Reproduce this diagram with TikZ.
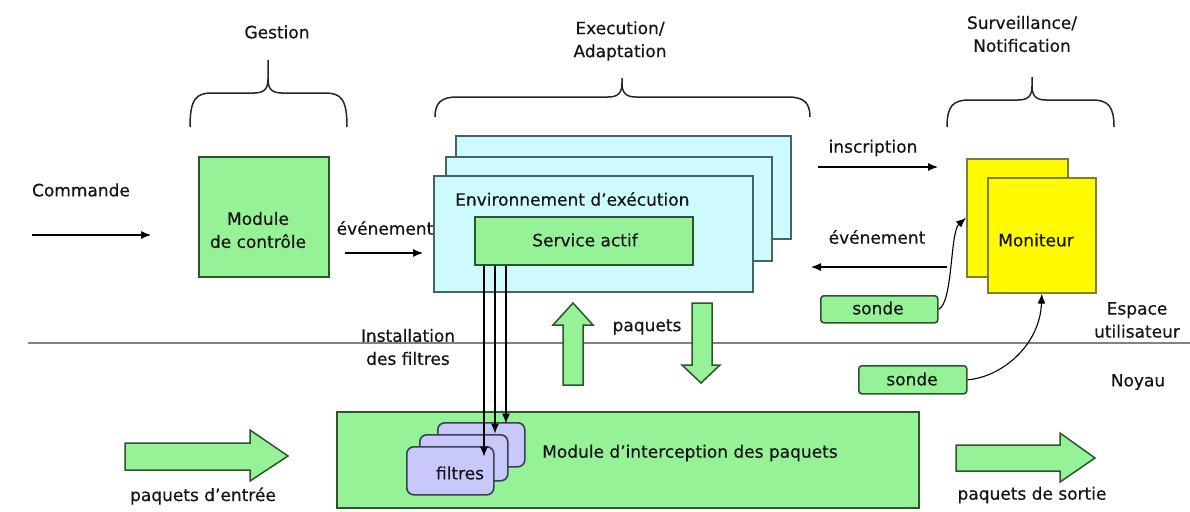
\documentclass[tikz,border=0pt]{standalone}
\usepackage{fontspec}
\setmainfont{DejaVu Sans}[FakeBold=0.35]
\usetikzlibrary{arrows.meta}
\definecolor{lgreen}{RGB}{150,242,150}
\definecolor{dgreen}{RGB}{45,85,45}
\definecolor{lcyan}{RGB}{205,250,252}
\definecolor{dcyan}{RGB}{70,100,100}
\definecolor{myyellow}{RGB}{255,250,0}
\definecolor{dyellow}{RGB}{125,125,60}
\definecolor{lav}{RGB}{200,200,250}
\definecolor{dlav}{RGB}{55,65,80}
\definecolor{txt}{RGB}{20,20,20}
\definecolor{sepgray}{RGB}{130,130,130}
\newcommand\mybrace[6]{%
  \draw[bracestyle] (#1,#5) .. controls (#1,#4+6) and (#1+6,#4) .. (#1+22,#4) -- (#3-14,#4) .. controls (#3-4,#4) and (#3,#4-4) .. (#3,#4-14) -- (#3,#6);
  \draw[bracestyle] (#2,#5) .. controls (#2,#4+6) and (#2-6,#4) .. (#2-22,#4) -- (#3+14,#4) .. controls (#3+4,#4) and (#3,#4-4) .. (#3,#4-14);
}
\begin{document}
\begin{tikzpicture}[x=1pt,y=-1pt,
  font=\fontsize{17}{23}\selectfont,
  every node/.style={text=txt},
  box/.style={anchor=north west, inner sep=0pt, line width=1.6pt},
  greenbox/.style={box, draw=dgreen, fill=lgreen},
  cyanbox/.style={box, draw=dcyan, fill=lcyan},
  yellowbox/.style={box, draw=dyellow, fill=myyellow},
  lavbox/.style={box, draw=dlav, fill=lav, rounded corners=7pt},
  sondebox/.style={greenbox, rounded corners=3pt},
  arr/.style={-{Latex[length=10pt,width=8pt]}, line width=1.1pt},
  lbl/.style={inner sep=0pt, align=center},
  bigarrow/.style={draw=dgreen, fill=lgreen, line width=1.5pt, line join=miter},
  bracestyle/.style={line width=1.5pt, draw=black!85}]
\fill[white] (0,0) rectangle (1190,511);
\useasboundingbox (0,0) rectangle (1190,511);

% separator line
\coordinate (sepL) at (28,343);
\coordinate (sepR) at (1190,343);
\draw[sepgray, line width=1.7pt] (sepL) -- (sepR);

% braces and titles
\mybrace{190}{347}{268}{93}{127}{60}
\mybrace{435}{810}{622}{97}{117}{78}
\mybrace{947}{1114}{1032}{100}{127}{77}
\node[lbl] (tGestion) at (277,32) {Gestion};
\node[lbl] (tExec) at (620,41) {Execution/\\Adaptation};
\node[lbl] (tSurv) at (1022,34) {Surveillance/\\Notification};

% control module
\node[greenbox, minimum width=130pt, minimum height=120pt] (ctrl) at (198,156) {};
\node[lbl] (ctrlT) at (258,230) {Module\\de contrôle};
\node[lbl] (tCmd) at (81,190) {Commande};
\coordinate (cmdS) at (32,235);
\coordinate (cmdE) at (151,235);
\draw[arr] (cmdS) -- (cmdE);

% execution environments
\node[cyanbox, minimum width=335pt, minimum height=103pt] (env3) at (455,135) {};
\node[cyanbox, minimum width=326pt, minimum height=104pt] (env2) at (445,156) {};
\node[cyanbox, minimum width=319pt, minimum height=116pt] (env1) at (433,175) {};
\node[lbl, anchor=west] (envT) at (455,199) {Environnement d’exécution};
\node[greenbox, minimum width=218pt, minimum height=48pt] (svc) at (474,216) {};
\node[lbl] (svcT) at (585,240) {Service actif};

\node[lbl] (tEv1) at (385,228) {événement};
\coordinate (ev1S) at (345,253);
\coordinate (ev1E) at (423,253);
\draw[arr] (ev1S) -- (ev1E);

% monitor
\node[yellowbox, minimum width=101pt, minimum height=118pt] (mon1) at (966,158) {};
\node[yellowbox, minimum width=108pt, minimum height=115pt] (mon2) at (987,177) {};
\node[lbl] (monT) at (1036,240) {Moniteur};

\node[lbl] (tInsc) at (873,148) {inscription};
\coordinate (inS) at (818,167);
\coordinate (inE) at (938,167);
\draw[arr] (inS) -- (inE);
\node[lbl] (tEv2) at (877,237) {événement};
\coordinate (ev2S) at (947,267);
\coordinate (ev2E) at (811,267);
\draw[arr] (ev2S) -- (ev2E);

\node[sondebox, minimum width=117pt, minimum height=27pt] (s1) at (820,295) {};
\node[lbl] (s1T) at (878,308) {sonde};
\node[sondebox, minimum width=108pt, minimum height=28pt] (s2) at (858,365) {};
\node[lbl] (s2T) at (912,379) {sonde};
\draw[arr] (s1.east) .. controls (953,303) and (950,232) .. (mon1.west);
\draw[arr] (s2.east) .. controls (1002,377) and (1040,345) .. (mon2.south);

\node[lbl] (tEsp) at (1137,320) {Espace\\utilisateur};
\node[lbl] (tNoy) at (1138,382) {Noyau};

% packets up / down
\draw[bigarrow] (563,385) -- (563,325) -- (553,325) -- (573,303) -- (593,325) -- (583,325) -- (583,385) -- cycle;
\draw[bigarrow] (692,303) -- (712,303) -- (712,365) -- (720,365) -- (701,383) -- (682,365) -- (692,365) -- cycle;
\node[lbl] (tPaq) at (647,327) {paquets};
\node[lbl] (tInst) at (408,347) {Installation\\des filtres};

% interception module
\node[greenbox, minimum width=582pt, minimum height=96pt] (mod) at (336,411) {};
\node[lbl, anchor=west] (modT) at (542,453) {Module d’interception des paquets};
\node[lavbox, minimum width=87pt, minimum height=44pt] (f3) at (437,422) {};
\node[lavbox, minimum width=88pt, minimum height=46pt] (f2) at (419,434) {};
\node[lavbox, minimum width=87pt, minimum height=48pt] (f1) at (406,446) {};
\node[lbl] (fT) at (460,473) {filtres};
\draw[arr] (svc.south west) ++(10,0) -- ++(0,191);
\draw[arr] (svc.south west) ++(21,0) -- ++(0,168);
\draw[arr] (svc.south west) ++(32,0) -- ++(0,158);

% in / out packets
\draw[bigarrow] (125,443) -- (250,443) -- (250,430) -- (288,456) -- (250,481) -- (250,470) -- (125,470) -- cycle;
\node[lbl] (tIn) at (203,496) {paquets d’entrée};
\draw[bigarrow] (956,445) -- (1060,445) -- (1060,433) -- (1095,458) -- (1060,482) -- (1060,471) -- (956,471) -- cycle;
\node[lbl] (tOut) at (1032,495) {paquets de sortie};
\end{tikzpicture}
\end{document}
